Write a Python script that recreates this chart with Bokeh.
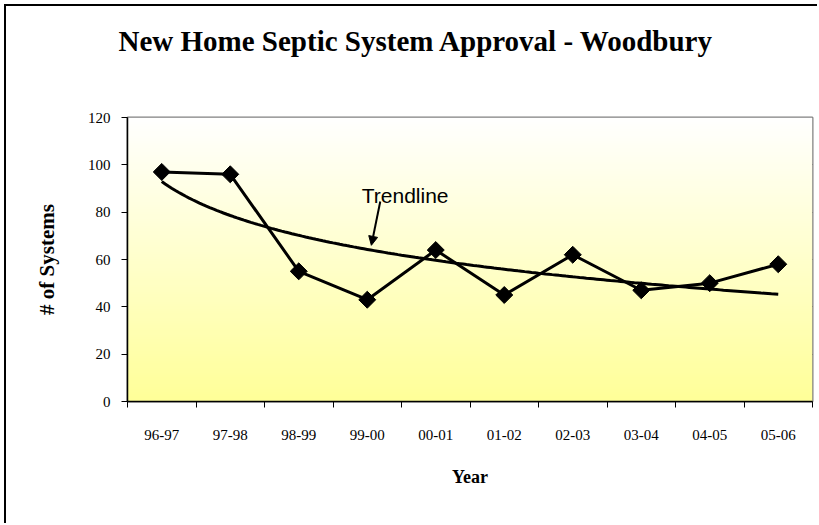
import numpy as np
from bokeh.plotting import figure
from bokeh.models import (FixedTicker, Label, Arrow, NormalHead, ColumnDataSource, Title)
from bokeh.embed import file_html
from bokeh.resources import INLINE

# ---- data -------------------------------------------------------------
years = ["96-97", "97-98", "98-99", "99-00", "00-01",
         "01-02", "02-03", "03-04", "04-05", "05-06"]
systems = [97, 96, 55, 43, 64, 45, 62, 47, 50, 58]
y_ticks = [0, 20, 40, 60, 80, 100, 120]

title_text = "New Home Septic System Approval - Woodbury"
x_title = "Year"
y_title = "# of Systems"
note_text = "Trendline"

# ---- derived ----------------------------------------------------------
pos = np.arange(1, len(years) + 1)
# logarithmic trendline (least-squares fit of the data on ln(x))
b, a = np.polyfit(np.log(pos), np.array(systems, dtype=float), 1)
trend_x = np.arange(1.0, len(years) + 0.001, 0.05)
trend_y = a + b * np.log(trend_x)

x_lo, x_hi = 0.5, len(years) + 0.5
y_lo, y_hi = 0, 120

p = figure(width=813, height=519, output_backend="svg", toolbar_location=None,
           x_range=(x_lo, x_hi), y_range=(y_lo, y_hi), title_location=None,
           min_border_left=121, min_border_right=7,
           min_border_top=111, min_border_bottom=124)
p.styles = {"margin-left": "4px", "margin-top": "4px",
            "border-left": "2px solid black", "border-top": "2px solid black"}

# gradient background (white at top -> pale yellow at bottom)
n = 120
grad = np.zeros((n, 1), dtype=np.uint32)
view = grad.view(dtype=np.uint8).reshape((n, 1, 4))
t = np.linspace(0, 1, n)  # 0 bottom, 1 top
view[:, 0, 0] = 255
view[:, 0, 1] = 255
view[:, 0, 2] = (153 + (255 - 153) * t).astype(np.uint8)
view[:, 0, 3] = 255
p.image_rgba(image=[grad], x=x_lo, y=y_lo, dw=x_hi - x_lo, dh=y_hi - y_lo)

p.background_fill_color = "white"
p.border_fill_color = "white"
p.outline_line_color = "#808080"
p.outline_line_width = 2

# grid
p.xgrid.visible = False
p.ygrid.ticker = FixedTicker(ticks=y_ticks)
p.ygrid.grid_line_color = "black"
p.ygrid.grid_line_width = 1

# trendline
p.line(trend_x, trend_y, line_color="black", line_width=3)

# data
src = ColumnDataSource(dict(x=pos, y=systems))
p.line("x", "y", source=src, line_color="black", line_width=3)
p.scatter("x", "y", source=src, marker="square", angle=np.pi / 4, size=12,
          fill_color="black", line_color="black")

# annotation
note_x, note_y = 3.92, 87.0
arrow_from = (4.19, 84.5)
arrow_to = (4.06, 66.0)
p.add_layout(Label(x=note_x, y=note_y, text=note_text,
                   text_font="Liberation Sans", text_font_size="21px",
                   text_color="black", text_baseline="alphabetic"))
p.add_layout(Arrow(end=NormalHead(size=9, fill_color="black", line_color="black"),
                   x_start=arrow_from[0], y_start=arrow_from[1],
                   x_end=arrow_to[0], y_end=arrow_to[1],
                   line_color="black", line_width=2))

serif = "Liberation Serif"

# x axis
xa = p.xaxis[0]
xa.ticker = FixedTicker(ticks=list(pos), minor_ticks=list(np.arange(x_lo, x_hi + 0.01, 1.0)))
xa.major_label_overrides = {int(i): lab for i, lab in zip(pos, years)}
xa.major_tick_out = 0
xa.major_tick_in = 0
xa.minor_tick_out = 6
xa.minor_tick_in = 0
xa.minor_tick_line_color = "black"
xa.axis_line_color = "black"
xa.axis_line_width = 1.5
xa.major_label_text_font = serif
xa.major_label_text_font_size = "15px"
xa.major_label_text_color = "black"
xa.major_label_standoff = 22
xa.axis_label = x_title
xa.axis_label_text_font = serif
xa.axis_label_text_font_style = "bold"
xa.axis_label_text_font_size = "18px"
xa.axis_label_text_color = "black"
xa.axis_label_standoff = 24

# y axis
ya = p.yaxis[0]
ya.ticker = FixedTicker(ticks=y_ticks)
ya.major_tick_out = 6
ya.major_tick_in = 0
ya.minor_tick_out = 0
ya.axis_line_color = "black"
ya.axis_line_width = 1.5
ya.major_tick_line_color = "black"
ya.major_label_text_font = serif
ya.major_label_text_font_size = "15px"
ya.major_label_text_color = "black"
ya.major_label_standoff = 11
ya.axis_label = y_title
ya.axis_label_text_font = serif
ya.axis_label_text_font_style = "bold"
ya.axis_label_text_font_size = "21px"
ya.axis_label_text_color = "black"
ya.axis_label_standoff = 26

# title: a blank spacer next to the frame, the real title above it
spacer = Title(text=" ", text_font_size="1px", standoff=58)
p.add_layout(spacer, "above")
main_title = Title(text=title_text, text_font=serif, text_font_style="bold",
                   text_font_size="29px", text_color="black",
                   align="left", offset=-9, standoff=0)
p.add_layout(main_title, "above")

open("out.html", "w").write(file_html(p, INLINE))
